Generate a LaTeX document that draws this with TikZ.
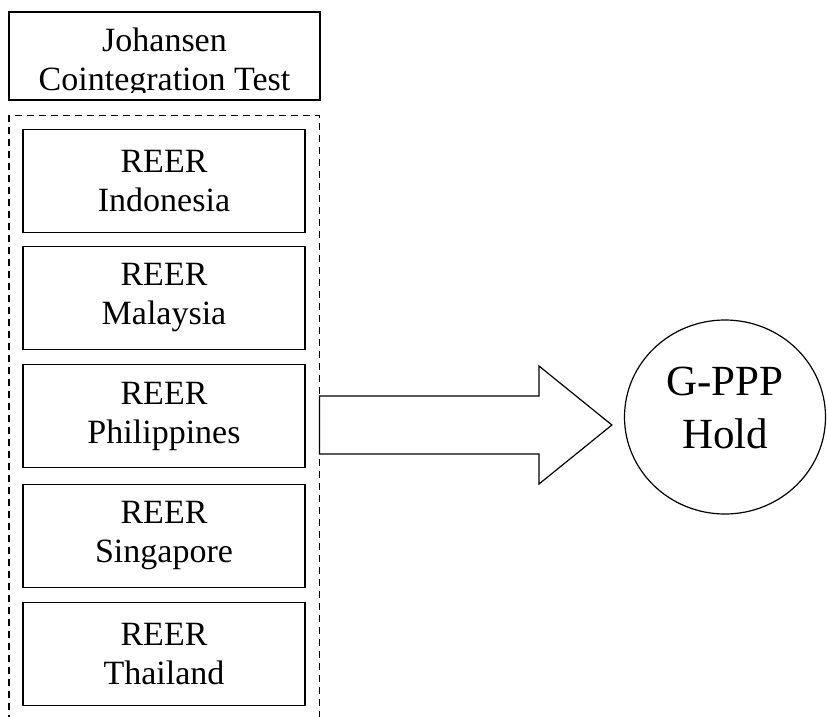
\documentclass[tikz,border=0pt]{standalone}
\usepackage{fontspec}
\setmainfont{Liberation Serif}
\usetikzlibrary{shapes.geometric,calc}
\begin{document}
\begin{tikzpicture}[x=1pt,y=-1pt,
  boxfont/.style={font=\fontsize{34}{39}\selectfont},
  country/.style={draw,line width=1.4pt,minimum width=282pt,minimum height=103pt,
    inner sep=0pt,align=center,boxfont},
  groupline/.style={line width=1.1pt,dash pattern=on 7pt off 5pt},
  result/.style={draw,ellipse,line width=1.2pt,minimum width=201pt,minimum height=194pt,
    inner sep=0pt},
  resulttext/.style={align=center,inner sep=0pt,font=\fontsize{43}{53}\selectfont},
  bigarrow/.style={draw,line width=1.2pt,line join=miter}]
\useasboundingbox (0,0) rectangle (827,717);

% heading box, its second line cut off by the frame
\node[draw,line width=1.4pt,minimum width=311pt,minimum height=88pt,inner sep=0pt] (test) at (164.5,56) {};
\begin{scope}
  \clip (9,12) rectangle (320,92);
  \node[anchor=base,boxfont] (testA) at (164.5,52) {Johansen};
  \node[anchor=base,boxfont] (testB) at (164.5,90) {Cointegration Test};
\end{scope}

% dashed group frame, open past the lower edge
\draw[groupline] (9,722) -- (9,115.5) -- (319.5,115.5) -- (319.5,722);
\coordinate (grp) at (319.5,425);

% the five series
\node[country] (idn) at (164,181) {REER\\Indonesia};
\node[country] (mys) at (164,298) {REER\\Malaysia};
\node[country] (phl) at (164,416) {REER\\Philippines};
\node[country] (sgp) at (164,536) {REER\\Singapore};
\node[country] (tha) at (164,654) {REER\\Thailand};

% outcome
\node[result] (gppp) at (725,417) {};
\node[resulttext] (gpppText) at (725,408) {G-PPP\\Hold};

% block arrow from the group to the outcome
\draw[bigarrow] ($(grp)+(0,-29)$) -- ++(219.5,0) -- ++(0,-30)
  -- ($(gppp.west)+(-12,8)$) -- ($(grp)+(219.5,59)$) -- ++(0,-30)
  -- ($(grp)+(0,29)$) -- cycle;
\end{tikzpicture}
\end{document}
